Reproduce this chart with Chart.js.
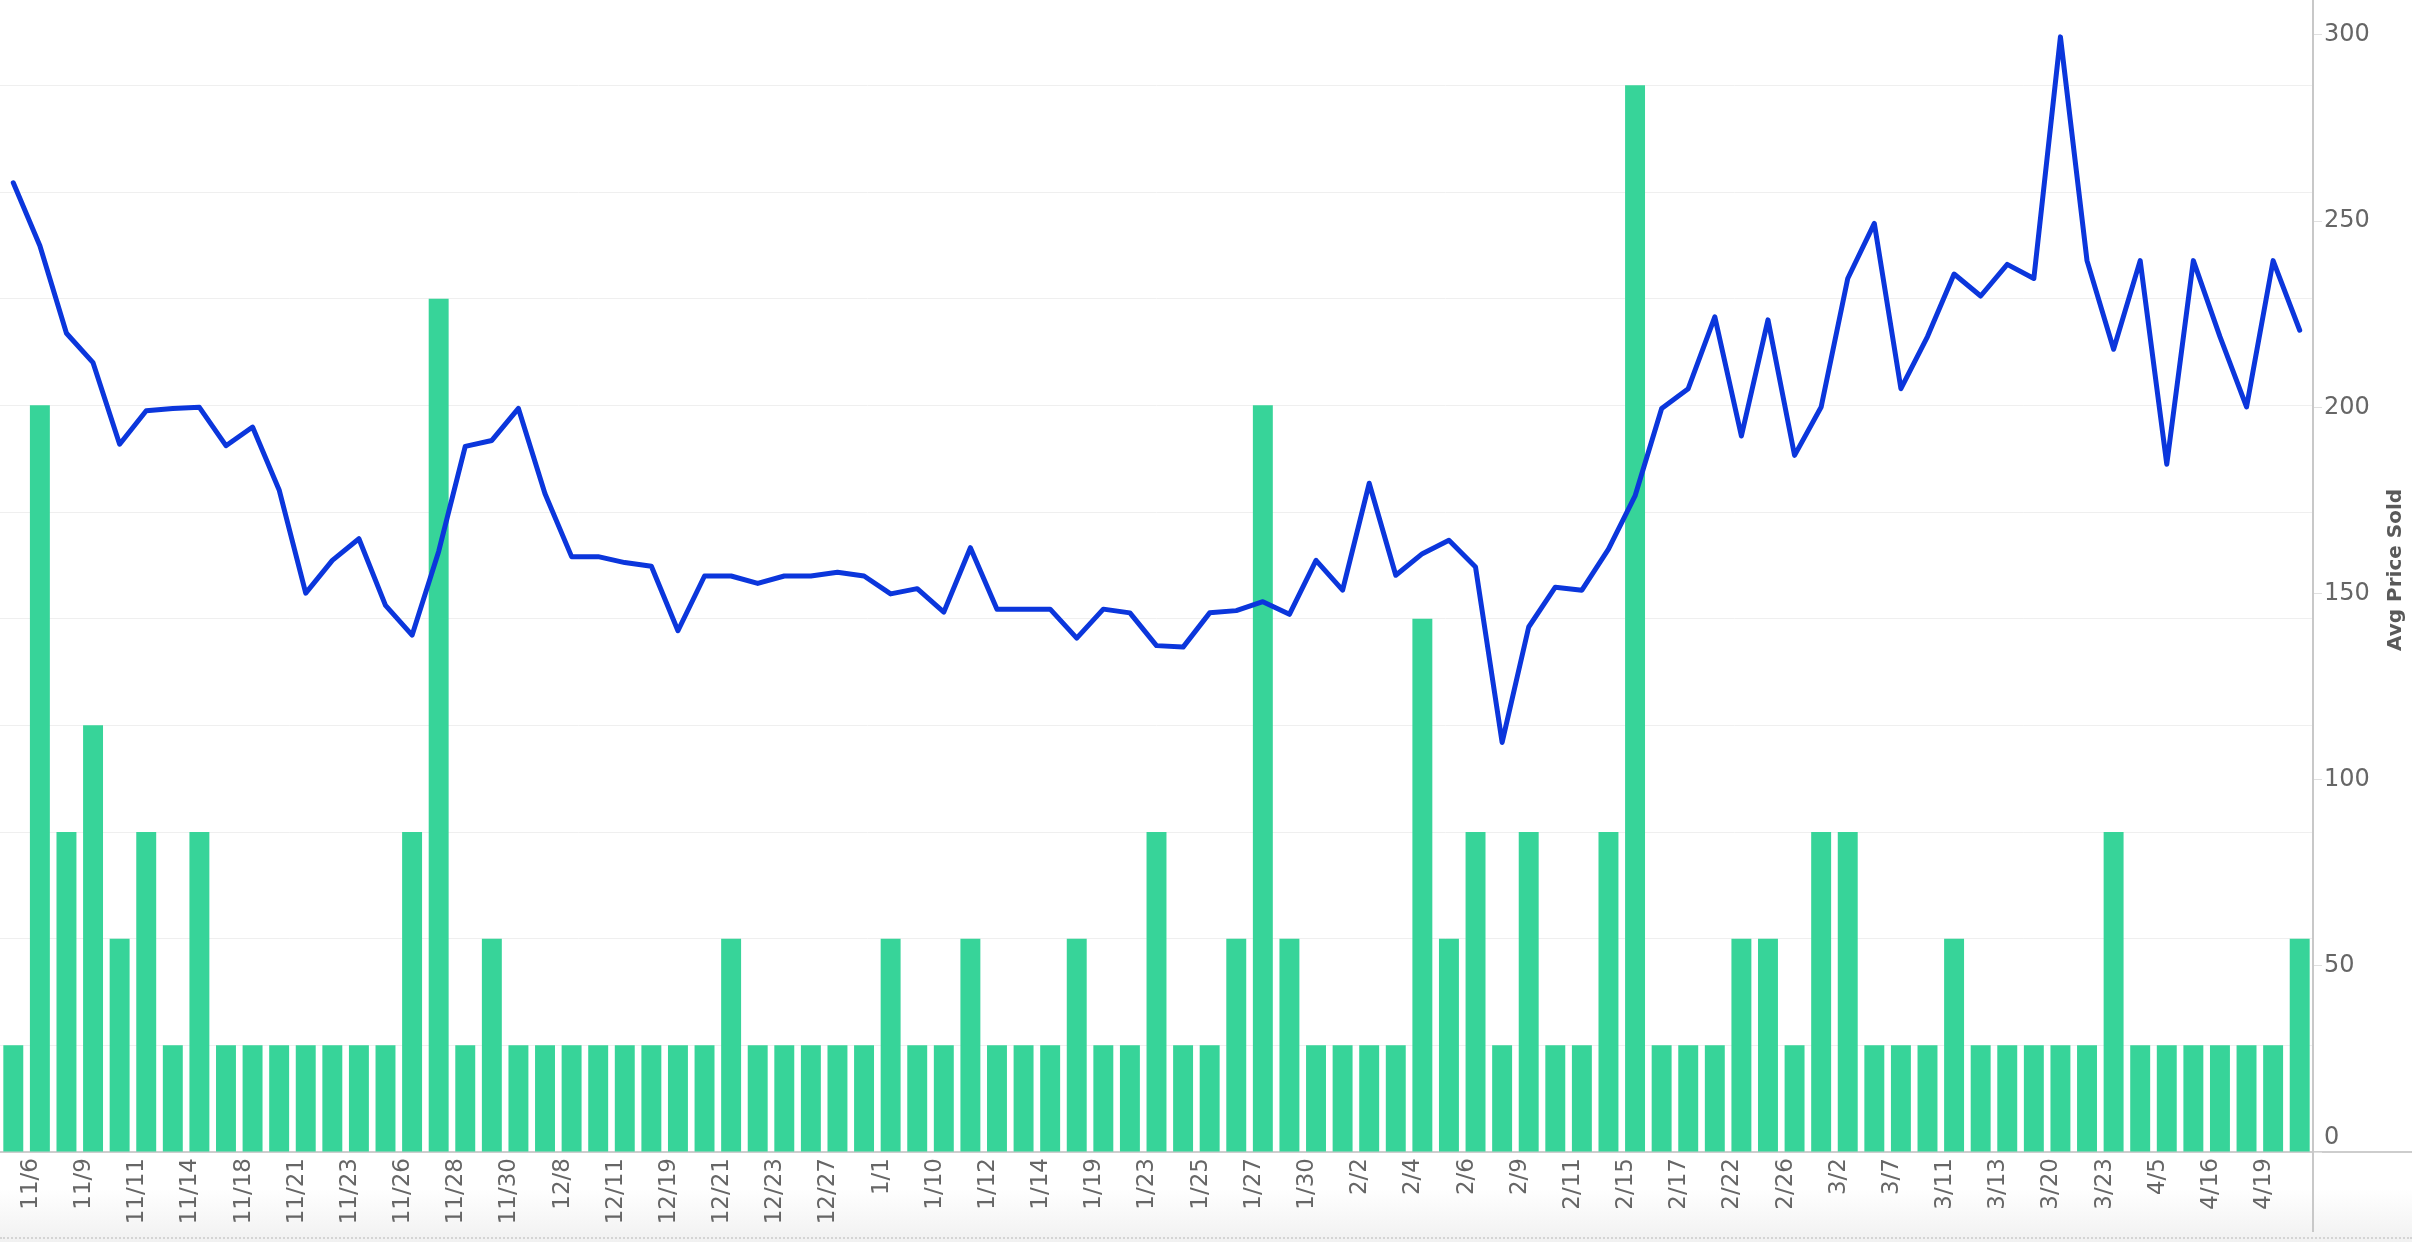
<!DOCTYPE html>
<html>
<head>
<meta charset="utf-8">
<script src="https://cdn.jsdelivr.net/npm/chart.js@4.4.1/dist/chart.umd.min.js"></script>
<style>
html,body{margin:0;padding:0;background:#fff;}
#wrap{position:relative;width:2412px;height:1242px;overflow:hidden;background:#fff;}
#band{position:absolute;left:0;top:1153px;width:2412px;height:89px;background:linear-gradient(to bottom,#ffffff 0%,#ffffff 40%,#f1f1f1 100%);}
#dots{position:absolute;left:0;top:1237px;width:2412px;height:0;border-top:2px dotted #d4d4d4;}
#vline{position:absolute;left:2312px;top:1152px;width:2px;height:80px;background:#c8c8c8;}
#hline{position:absolute;left:2313px;top:1151px;width:99px;height:2px;background:#cdcdcd;}
#c{position:absolute;left:0;top:0;}
</style>
</head>
<body>
<div id="wrap">
  <div id="band"></div>
  <div id="dots"></div>
  <div id="vline"></div>
  <div id="hline"></div>
  <canvas id="c" width="2412" height="1242"></canvas>
</div>
<script>
// ---- data ----
const dates = [
  "11/5","11/6","11/7","11/9","11/10","11/11","11/12","11/14","11/16","11/18",
  "11/20","11/21","11/22","11/23","11/24","11/26","11/27","11/28","11/29","11/30",
  "12/3","12/8","12/9","12/11","12/15","12/19","12/20","12/21","12/22","12/23",
  "12/26","12/27","12/30","1/1","1/7","1/10","1/11","1/12","1/13","1/14",
  "1/16","1/19","1/21","1/23","1/24","1/25","1/26","1/27","1/28","1/30",
  "2/1","2/2","2/3","2/4","2/5","2/6","2/8","2/9","2/10","2/11",
  "2/13","2/15","2/16","2/17","2/20","2/22","2/23","2/26","2/28","3/2",
  "3/5","3/7","3/9","3/11","3/12","3/13","3/16","3/20","3/22","3/23",
  "3/28","4/5","4/10","4/16","4/18","4/19","4/21"
];
const itemsSold = [
  1,7,3,4,2,3,1,3,1,1,
  1,1,1,1,1,3,8,1,2,1,
  1,1,1,1,1,1,1,2,1,1,
  1,1,1,2,1,1,2,1,1,1,
  2,1,1,3,1,1,2,7,2,1,
  1,1,1,5,2,3,1,3,1,1,
  3,10,1,1,1,2,2,1,3,3,
  1,1,1,2,1,1,1,1,1,3,
  1,1,1,1,1,1,2
];
const avgPrice = [
  260.3,243.4,219.9,212.0,190.1,199.1,199.7,200.0,189.7,194.7,
  177.8,150.1,158.9,164.7,146.8,138.8,161.3,189.5,191.1,199.7,
  176.8,159.9,159.9,158.3,157.3,140.0,154.7,154.7,152.7,154.7,
  154.7,155.7,154.7,149.9,151.3,145.0,162.3,145.8,145.8,145.8,
  138.0,145.8,144.8,136.0,135.6,144.8,145.4,147.8,144.4,158.9,
  150.9,179.6,154.9,160.7,164.3,157.1,110.0,141.0,151.7,150.9,
  161.9,176.2,199.7,205.0,224.3,192.3,223.5,187.1,200.1,234.6,
  249.4,205.0,219.0,235.8,229.9,238.4,234.6,299.5,239.4,215.6,
  239.4,184.7,239.4,219.0,200.1,239.4,220.7
];
const priceTicks = [0, 50, 100, 150, 200, 250, 300];
const priceAxisTitle = "Avg Price Sold";

// ---- chart ----
const rightTitlePlugin = {
  id: 'rightTitle',
  afterDraw(chart) {
    const s = chart.scales.yPrice;
    const ctx = chart.ctx;
    ctx.save();
    ctx.translate(s.right - 16, (s.top + s.bottom) / 2 - 6);
    ctx.rotate(-Math.PI / 2);
    ctx.font = 'bold 20px "DejaVu Sans"';
    ctx.fillStyle = '#595959';
    ctx.textAlign = 'center';
    ctx.textBaseline = 'middle';
    ctx.fillText(s.options.title.text, 0, 0);
    ctx.restore();
  }
};

new Chart(document.getElementById('c'), {
  type: 'bar',
  data: {
    labels: dates,
    datasets: [
      {
        type: 'line',
        label: 'Avg Price Sold',
        data: avgPrice,
        yAxisID: 'yPrice',
        borderColor: '#0b36dc',
        borderWidth: 5,
        pointRadius: 0,
        tension: 0,
        borderJoinStyle: 'round',
        borderCapStyle: 'round',
        fill: false,
        order: 0
      },
      {
        type: 'bar',
        label: 'Items Sold',
        data: itemsSold,
        yAxisID: 'yCount',
        backgroundColor: '#37d499',
        borderWidth: 0,
        categoryPercentage: 1.0,
        barPercentage: 0.75,
        order: 1
      }
    ]
  },
  options: {
    responsive: false,
    animation: false,
    devicePixelRatio: 1,
    layout: { padding: 0 },
    plugins: { legend: { display: false }, tooltip: { enabled: false } },
    scales: {
      x: {
        offset: true,
        grid: { display: false, drawTicks: false },
        border: { display: true, color: '#cdcdcd', width: 2 },
        ticks: {
          autoSkip: false,
          minRotation: 90,
          maxRotation: 90,
          padding: 6,
          labelOffset: -9,
          color: '#666666',
          font: { family: '"DejaVu Sans"', size: 23 },
          callback: function (value, index) {
            return index % 2 === 1 ? this.getLabelForValue(value) : '';
          }
        },
        afterFit(scale) { scale.height = 90; scale.paddingLeft = 0; scale.paddingRight = 0; }
      },
      yCount: {
        position: 'left',
        min: 0,
        max: 10.8,
        grid: { display: true, color: '#efefef', lineWidth: 1, drawTicks: false },
        border: { display: false },
        ticks: { display: false, stepSize: 1, includeBounds: false },
        afterFit(scale) { scale.width = 0; scale.paddingTop = 0; scale.paddingBottom = 0; }
      },
      yPrice: {
        position: 'right',
        min: 0,
        max: 309.4,
        afterBuildTicks(scale) { scale.ticks = priceTicks.map(v => ({ value: v })); },
        grid: { display: true, drawOnChartArea: false, drawTicks: true, tickLength: 9, color: '#e0e0e0', lineWidth: 1 },
        border: { display: true, color: '#c8c8c8', width: 2 },
        title: { display: false, text: priceAxisTitle },
        ticks: {
          padding: 2,
          color: '#666666',
          font: { family: '"DejaVu Sans"', size: 24 },
          callback: v => (v === 0 ? ['0', ''] : String(v))
        },
        afterFit(scale) { scale.width = 99; scale.paddingTop = 0; scale.paddingBottom = 0; }
      }
    }
  },
  plugins: [rightTitlePlugin]
});
</script>
</body>
</html>
